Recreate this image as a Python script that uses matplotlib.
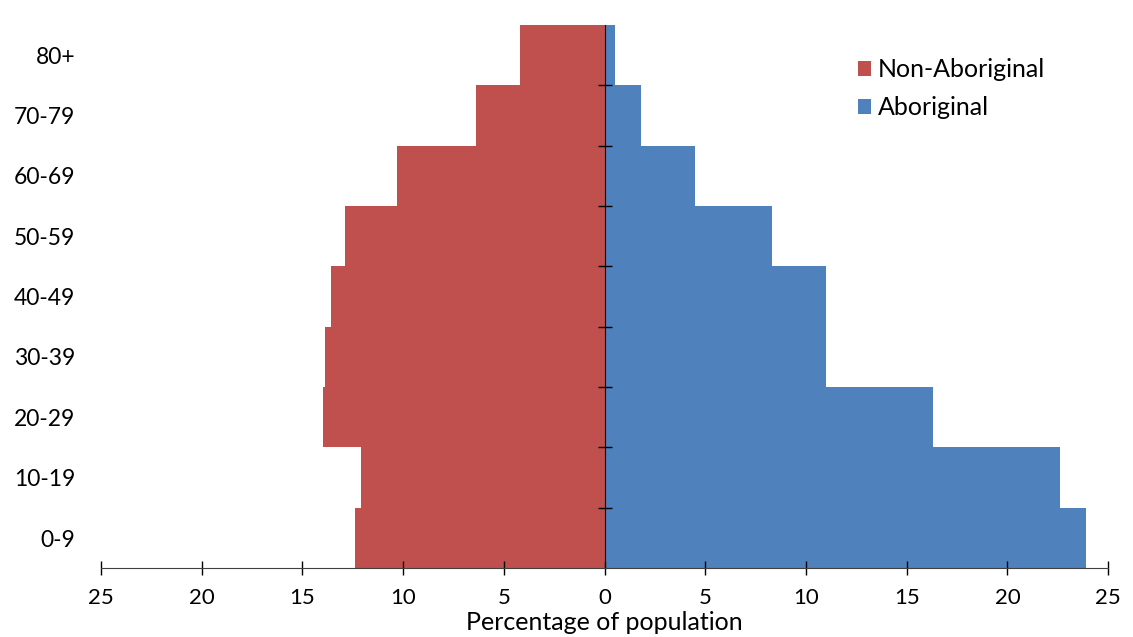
import matplotlib.pyplot as plt
import numpy as np

plt.rcParams['font.family'] = ['Lato', 'DejaVu Sans']

# Age groups and percentages
age_groups = ['0-9', '10-19', '20-29', '30-39', '40-49', '50-59', '60-69', '70-79', '80+']
non_aboriginal = [12.4, 12.1, 14.0, 13.9, 13.6, 12.9, 10.3, 6.4, 4.2]
aboriginal = [23.9, 22.6, 16.3, 11.0, 11.0, 8.3, 4.5, 1.8, 0.5]
x_ticks = [-25, -20, -15, -10, -5, 0, 5, 10, 15, 20, 25]

red = '#C0504D'
blue = '#4F81BD'

fig = plt.figure(figsize=(11.33, 6.37), dpi=100)
ax = fig.add_axes([0.0891, 0.108, 0.889, 0.853])

y = np.arange(len(age_groups))
ax.barh(y, [-v for v in non_aboriginal], height=1.0, color=red, label='Non-Aboriginal')
ax.barh(y, aboriginal, height=1.0, color=blue, label='Aboriginal')

ax.set_xlim(-25, 25)
ax.set_ylim(-0.5, len(age_groups) - 0.5)

# x axis: absolute values, ticks crossing the line
ax.set_xticks(x_ticks)
ax.set_xticklabels([str(abs(t)) for t in x_ticks])
ax.tick_params(axis='x', direction='inout', length=10, width=1, pad=9, labelsize=16)
ax.set_xlabel('Percentage of population', fontsize=18)
ax.xaxis.set_label_coords(0.5, -0.078)

# y axis: labels at the far left, vertical line at zero with boundary ticks
ax.spines['left'].set_visible(False)
ax.spines['top'].set_visible(False)
ax.spines['right'].set_position(('data', 0))
ax.spines['right'].set_color('black')
ax.spines['bottom'].set_color('#404040')
ax.set_yticks(y)
ax.set_yticklabels(age_groups)
ax.set_yticks(np.arange(len(age_groups) - 1) + 0.5, minor=True)
ax.tick_params(axis='y', which='major', left=False, right=False, labelleft=True, pad=15, labelsize=16.5)
ax.tick_params(axis='y', which='minor', left=False, right=True, direction='inout', length=10, width=1)

ax.legend(loc='upper left', bbox_to_anchor=(0.737, 0.944), bbox_transform=fig.transFigure,
          frameon=False, fontsize=18, handlelength=0.55, handleheight=0.55,
          handletextpad=0.25, labelspacing=0.6)

plt.savefig('out.png', dpi=100)
